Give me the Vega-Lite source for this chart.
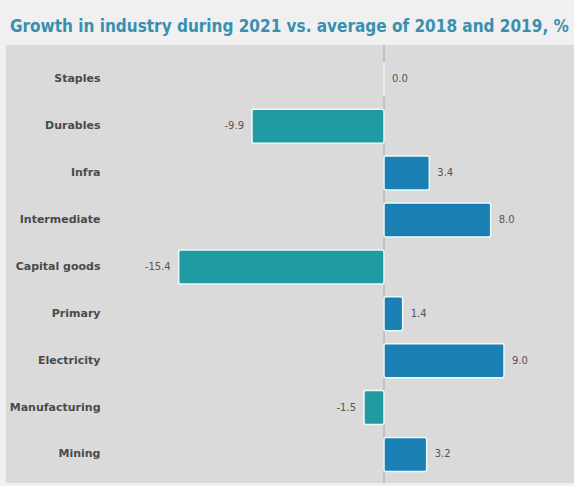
{
  "$schema": "https://vega.github.io/schema/vega-lite/v6.json",
  "width": 568,
  "height": 438,
  "autosize": {"type": "none"},
  "padding": {"left": 6, "top": 45, "right": 0, "bottom": 3},
  "background": "#f0f0f0",
  "title": {
    "text": "Growth in industry during 2021 vs. average of 2018 and 2019, %",
    "anchor": "start",
    "dx": 4,
    "offset": 9,
    "font": "'DejaVu Sans Condensed', 'Liberation Sans Narrow', Roboto, sans-serif",
    "fontSize": 17,
    "fontWeight": "bold",
    "color": "#3b8fae"
  },
  "config": {"view": {"stroke": null, "fill": "#dadada"}},
  "data": {
    "values": [
      {"sector": "Staples", "value": 0.0, "label": "0.0"},
      {"sector": "Durables", "value": -9.9, "label": "-9.9"},
      {"sector": "Infra", "value": 3.4, "label": "3.4"},
      {"sector": "Intermediate", "value": 8.0, "label": "8.0"},
      {"sector": "Capital goods", "value": -15.4, "label": "-15.4"},
      {"sector": "Primary", "value": 1.4, "label": "1.4"},
      {"sector": "Electricity", "value": 9.0, "label": "9.0"},
      {"sector": "Manufacturing", "value": -1.5, "label": "-1.5"},
      {"sector": "Mining", "value": 3.2, "label": "3.2"}
    ]
  },
  "layer": [
    {
      "mark": {"type": "rule", "color": "#c2c2c2", "strokeWidth": 1},
      "encoding": {
        "x": {"datum": 0, "type": "quantitative", "scale": {"domain": [-28.35, 14.25], "nice": false, "zero": false}, "axis": null}
      }
    },
    {
      "mark": {"type": "bar", "stroke": "#eefafa", "strokeWidth": 1.5, "cornerRadius": 2},
      "encoding": {
        "y": {
          "field": "sector", "type": "nominal", "sort": null,
          "scale": {"paddingInner": 0.275, "paddingOuter": 0.307, "align": 0.6},
          "axis": {
            "title": null, "domain": false, "ticks": false, "offset": -98, "labelPadding": 4,
            "labelFont": "DejaVu Sans", "labelFontSize": 11, "labelFontWeight": "bold", "labelColor": "#4a4a4a"
          }
        },
        "x": {"field": "value", "type": "quantitative", "scale": {"domain": [-28.35, 14.25], "nice": false, "zero": false}, "axis": null},
        "x2": {"datum": 0},
        "color": {"condition": {"test": "datum.value < 0", "value": "#1f9ba1"}, "value": "#1b80b3"}
      }
    },
    {
      "transform": [{"filter": "datum.value >= 0"}],
      "mark": {"type": "text", "align": "left", "dx": 8, "font": "DejaVu Sans", "fontSize": 10, "color": "#555555"},
      "encoding": {
        "y": {"field": "sector", "type": "nominal", "sort": null},
        "x": {"field": "value", "type": "quantitative"},
        "text": {"field": "label"}
      }
    },
    {
      "transform": [{"filter": "datum.value < 0"}],
      "mark": {"type": "text", "align": "right", "dx": -8, "font": "DejaVu Sans", "fontSize": 10, "color": "#555555"},
      "encoding": {
        "y": {"field": "sector", "type": "nominal", "sort": null},
        "x": {"field": "value", "type": "quantitative"},
        "text": {"field": "label"}
      }
    }
  ]
}
